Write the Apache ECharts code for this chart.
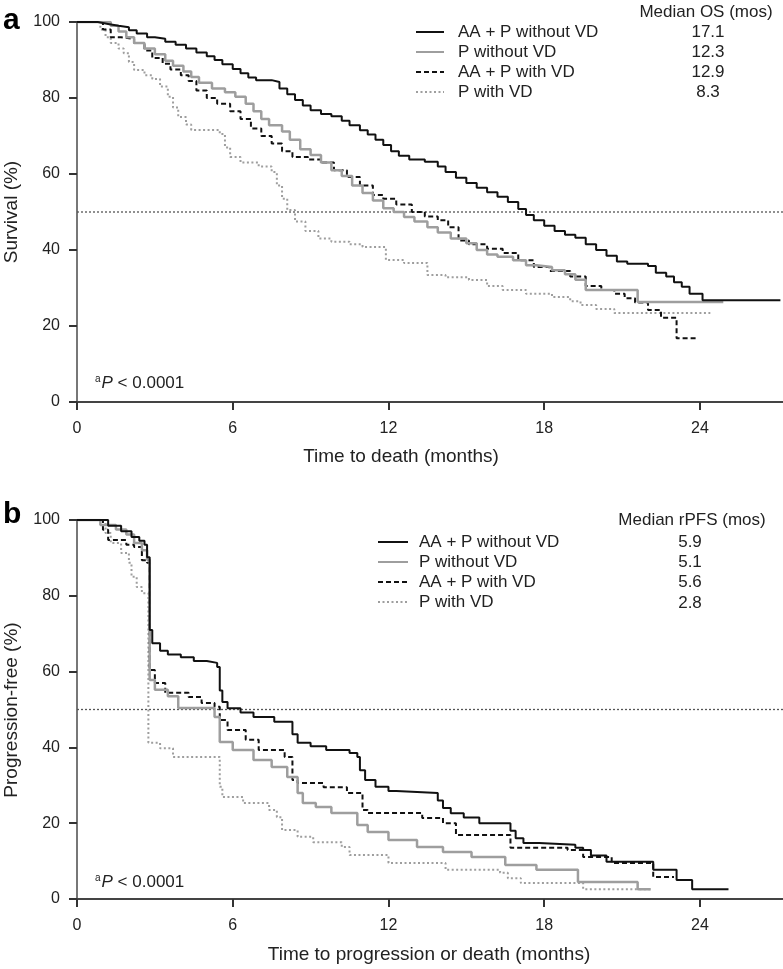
<!DOCTYPE html>
<html><head><meta charset="utf-8">
<script src="https://cdn.jsdelivr.net/npm/echarts@6/dist/echarts.min.js"></script>
<style>html,body{margin:0;padding:0;background:#fff}#c{width:783px;height:969px}</style>
</head><body><div id="c"></div>
<script>
// ---------- data ----------
const seriesNames = ['AA + P without VD', 'P without VD', 'AA + P with VD', 'P with VD'];
const medianOS = ['17.1', '12.3', '12.9', '8.3'];
const medianPFS = ['5.9', '5.1', '5.6', '2.8'];
const xTickValues = [0, 6, 12, 18, 24];
const medianRefLevel = 50;

// Panel a: overall survival (months, %)
const osAAPnoVD = [[0,100],[0.6,100],[0.8,99.5],[1.2,99],[1.6,98.6],[2.0,97.8],[2.3,97],[2.7,96],[3.0,95.6],[3.4,94.8],[3.8,94],[4.2,93],[4.6,92],[5.0,91],[5.3,90],[5.6,88.9],[6.0,87.6],[6.3,86.5],[6.6,85.4],[6.9,84.7],[7.5,84.2],[7.8,82.5],[8.1,81],[8.4,79.5],[8.7,78],[9.0,76.8],[9.4,75.8],[9.8,75.2],[10.2,74],[10.5,72.8],[10.9,71.5],[11.2,70.4],[11.5,69],[11.8,67.6],[12.1,66],[12.4,64.8],[12.8,63.8],[13.4,63.2],[13.9,62],[14.2,60.5],[14.6,59],[15.0,57.6],[15.4,56.4],[15.8,55.2],[16.2,54],[16.6,52.6],[17.0,50.8],[17.3,49.2],[17.6,47.8],[18.0,46.4],[18.4,45],[18.8,44],[19.2,43.2],[19.6,41.5],[20.0,40],[20.4,38.5],[20.8,37],[21.2,36.4],[22.0,35.8],[22.3,34],[22.7,33],[23.0,31.5],[23.3,30.3],[23.6,28.5],[24.1,26.8],[27.1,26.8]];
const osPnoVD = [[0,100],[1.0,100],[1.3,99],[1.6,97.5],[1.9,96],[2.2,94.5],[2.6,93],[3.0,91.5],[3.4,89.8],[3.7,88.5],[4.1,87],[4.4,85.5],[4.7,84],[5.2,82.5],[5.7,81.5],[6.1,80.3],[6.5,78.5],[6.8,76.5],[7.1,74.5],[7.4,72.8],[7.9,71.2],[8.2,69],[8.6,66.5],[9.0,65],[9.4,63],[9.8,61],[10.2,59.5],[10.6,57],[11.0,55],[11.4,53],[11.8,51],[12.2,50],[12.6,48.7],[13.0,47.5],[13.5,46],[13.9,44.6],[14.4,43],[15.0,41.8],[15.4,40],[15.8,38.8],[16.2,38.2],[16.8,37.3],[17.3,36],[17.7,35.5],[18.3,34.7],[18.8,33.6],[19.2,32.2],[19.6,29.5],[21.6,26.3],[24.9,26.3]];
const osAAPwithVD = [[0,100],[0.8,100],[1.0,98],[1.3,96],[1.7,95.5],[2.2,94.5],[2.6,92.5],[2.9,90.5],[3.3,89],[3.6,87.5],[4.0,86],[4.3,84.5],[4.6,82],[5.0,80],[5.4,78.5],[5.9,76.5],[6.3,74.5],[6.7,72],[7.1,70],[7.5,68],[7.9,66],[8.3,64.5],[8.9,63.8],[9.4,63],[9.9,61],[10.4,59.2],[10.9,57],[11.4,54.5],[11.8,53.5],[12.3,52],[12.9,50],[13.4,48.8],[13.9,47.8],[14.3,46],[14.7,42.5],[15.1,41.5],[15.8,40.3],[16.4,39.2],[17.0,37.3],[17.6,35.5],[18.2,34.5],[19.0,33],[19.6,30.5],[20.2,29.5],[20.7,28.5],[21.1,27.3],[21.5,26.2],[22.0,24.2],[22.5,22.2],[23.1,16.8],[23.9,16.8]];
const osPwithVD = [[0,100],[0.7,100],[0.9,98],[1.1,96],[1.3,94.5],[1.6,93],[1.8,91.8],[2.0,89.5],[2.2,87.4],[2.6,86],[2.9,85],[3.2,83],[3.5,80.3],[3.7,77.5],[3.9,75],[4.2,73],[4.4,71.6],[5.5,70.5],[5.7,67],[5.9,64.5],[6.3,63],[7.0,62],[7.5,60.5],[7.7,57],[7.9,53.5],[8.1,50.5],[8.4,47.5],[8.8,45],[9.3,43],[9.8,42.2],[10.5,41.5],[11.0,40.8],[11.9,37.4],[12.6,36.6],[13.5,33.4],[14.2,32.8],[15.1,32.1],[15.8,30.5],[16.4,29.5],[17.3,28.5],[18.3,27.6],[19.0,26.5],[19.4,25.5],[20.0,24.5],[20.7,23.4],[24.4,23.4]];

// Panel b: radiographic progression-free survival (months, %)
const pfsAAPnoVD = [[0,100],[0.8,100],[1.2,98.5],[1.7,97],[2.1,95.5],[2.4,94.5],[2.6,93.5],[2.7,90.2],[2.8,71],[2.9,67.5],[3.2,65.5],[3.5,64.5],[4.0,63.8],[4.5,62.8],[5.0,62.3],[5.4,61.2],[5.5,55],[5.6,52],[5.8,50.3],[6.3,49.2],[6.8,48],[7.6,46.8],[8.3,43.5],[8.5,41.2],[9.0,40.3],[9.6,39.3],[10.5,38.5],[10.8,37.5],[10.9,34],[11.1,31.4],[11.5,29.6],[12.0,28.5],[12.3,28],[13.9,26],[14.1,24],[14.4,22.6],[14.9,21.5],[15.5,20],[16.7,18],[16.9,16],[17.2,14.8],[17.8,14.3],[19.2,13.5],[19.5,12.9],[19.8,11.5],[20.4,9.8],[22.2,7.7],[23.1,5],[23.7,2.6],[25.1,2.6]];
const pfsPnoVD = [[0,100],[0.7,100],[0.9,98.7],[1.5,97.5],[1.9,96.2],[2.2,93.9],[2.5,92],[2.7,89.5],[2.8,57.8],[3.0,55.2],[3.5,53.5],[3.9,50.4],[5.3,48],[5.5,41.4],[6.0,39.3],[6.8,36.7],[7.5,34.8],[8.1,32.2],[8.5,28],[8.7,25.3],[9.2,24.3],[9.8,22.7],[10.8,19.5],[11.2,17.7],[12.0,15.6],[13.1,13.7],[14.1,12.4],[15.2,11.1],[16.5,9],[17.7,7.7],[19.3,4.5],[21.6,2.6],[22.1,2.6]];
const pfsAAPwithVD = [[0,100],[0.8,100],[1.0,97.4],[1.2,94.7],[1.9,93.5],[2.2,92.9],[2.5,89.4],[2.7,88.7],[2.8,60.4],[3.0,57],[3.4,54.4],[4.3,53.3],[4.8,51.7],[5.3,50.7],[5.5,47.2],[5.8,44.6],[6.5,42],[7.0,39.3],[8.0,37.5],[8.3,31.4],[8.5,30.6],[9.5,29.5],[10.4,28],[11.0,23.5],[11.2,22.7],[13.3,21.4],[14.1,20],[14.6,16.9],[16.7,13.5],[18.9,12.9],[19.5,11.1],[20.6,9.5],[22.2,5.8],[23.0,5.8]];
const pfsPwithVD = [[0,100],[0.8,100],[1.1,96.6],[1.3,93.9],[1.7,91.3],[2.0,88.7],[2.1,85],[2.3,82.3],[2.5,80.7],[2.75,41.2],[3.2,39.8],[3.7,37.5],[5.5,29.6],[5.6,26.9],[6.4,25.3],[7.4,23.5],[7.7,21.6],[7.9,18.2],[8.5,16.4],[9.1,15],[10.2,13.7],[10.5,11.6],[12.0,9.5],[14.2,7.7],[16.3,6.9],[16.6,5.5],[17.1,4.2],[19.5,2.6],[22.1,2.6]];

// ---------- chart ----------
const FONT = "'Liberation Sans', Arial, Helvetica, sans-serif";
const TXT = '#222';
const XMAX = 27.2;
const lineStyles = [
  {color: '#111', width: 2, type: 'solid'},
  {color: '#9e9e9e', width: 2.5, type: 'solid'},
  {color: '#111', width: 2, type: [5, 3]},
  {color: '#9e9e9e', width: 2, type: [2, 2.5]}
];
const panelData = [
  [osAAPnoVD, osPnoVD, osAAPwithVD, osPwithVD],
  [pfsAAPnoVD, pfsPnoVD, pfsAAPwithVD, pfsPwithVD]
];

const series = [];
panelData.forEach((sets, p) => {
  series.push({
    name: 'median reference', type: 'line', xAxisIndex: p, yAxisIndex: p,
    data: [[0, medianRefLevel], [XMAX, medianRefLevel]], symbol: 'none', silent: true,
    lineStyle: {color: '#555', width: 1.3, type: [2, 2]}, z: 1
  });
  sets.forEach((d, i) => {
    series.push({
      name: seriesNames[i], type: 'line', xAxisIndex: p, yAxisIndex: p, step: 'end',
      data: d, symbol: 'none', showSymbol: false, legendIcon: 'none',
      lineStyle: lineStyles[i], itemStyle: {color: lineStyles[i].color}, z: 2 + (3 - i)
    });
  });
});

function xAxis(idx) {
  return {
    gridIndex: idx, type: 'value', min: 0, max: XMAX, interval: 6, offset: 5,
    axisLine: {show: true, lineStyle: {color: '#444', width: 2}},
    axisTick: {show: true, length: 8, customValues: xTickValues, lineStyle: {color: '#333', width: 2}},
    axisLabel: {customValues: xTickValues, margin: 14, fontSize: 16, color: TXT, fontFamily: FONT},
    splitLine: {show: false}
  };
}
function yAxis(idx) {
  return {
    gridIndex: idx, type: 'value', min: 0, max: 100, interval: 20, offset: 2,
    axisLine: {show: true, lineStyle: {color: '#777', width: 2}},
    axisTick: {show: true, length: 8, lineStyle: {color: '#333', width: 2}},
    axisLabel: {margin: 15, fontSize: 16, color: TXT, fontFamily: FONT},
    splitLine: {show: false}
  };
}
function legend(left, top, w, pad) {
  return {
    data: seriesNames, left: left, top: top, orient: 'vertical', selectedMode: false,
    padding: 0, itemWidth: w, itemHeight: 14, itemGap: 0,
    itemStyle: {opacity: 0},
    textStyle: {fontSize: 17, fontFamily: FONT, color: TXT, lineHeight: 20, padding: [0, 0, 0, pad]}
  };
}
function txt(text, x, y, opts) {
  return {type: 'text', x: x, y: y, silent: true,
    style: Object.assign({text: text, fill: TXT, font: '17px ' + FONT, align: 'center', verticalAlign: 'middle'}, opts || {})};
}

const graphics = [];
graphics.push(txt('a', 3, 21, {font: 'bold 30px ' + FONT, align: 'left', fill: '#000'}));
graphics.push(txt('b', 3, 515, {font: 'bold 30px ' + FONT, align: 'left', fill: '#000'}));
graphics.push(txt('Median OS (mos)', 706, 12));
medianOS.forEach((v, i) => graphics.push(txt(v, 708, 32 + 20 * i)));
graphics.push(txt('Median rPFS (mos)', 692, 520));
medianPFS.forEach((v, i) => graphics.push(txt(v, 690, 542 + 20.3 * i)));
graphics.push(txt('Time to death (months)', 401, 457, {font: '19px ' + FONT}));
graphics.push(txt('Time to progression or death (months)', 429, 955, {font: '19px ' + FONT}));
graphics.push({type: 'text', x: 12, y: 212, rotation: Math.PI / 2, silent: true,
  style: {text: 'Survival (%)', fill: TXT, font: '19px ' + FONT, align: 'center', verticalAlign: 'middle'}});
graphics.push({type: 'text', x: 12, y: 710, rotation: Math.PI / 2, silent: true,
  style: {text: 'Progression-free (%)', fill: TXT, font: '19px ' + FONT, align: 'center', verticalAlign: 'middle'}});
function pText(y) {
  return {type: 'text', x: 95, y: y, silent: true,
    style: {text: '{s|a}{i|P}{n| < 0.0001}', fill: TXT, align: 'left', verticalAlign: 'middle',
      rich: {
        s: {fontSize: 10, fontFamily: FONT, fill: TXT, verticalAlign: 'top', lineHeight: 18, padding: [0, 1, 8, 0]},
        i: {fontSize: 17, fontFamily: FONT, fontStyle: 'italic', fill: TXT, lineHeight: 18},
        n: {fontSize: 17, fontFamily: FONT, fill: TXT, lineHeight: 18}
      }}};
}
graphics.push(pText(383));
graphics.push(pText(882));

const chart = echarts.init(document.getElementById('c'), null, {renderer: 'canvas'});
chart.setOption({
  animation: false,
  backgroundColor: '#fff',
  grid: [
    {left: 77, top: 22, width: 706, height: 380, outerBoundsMode: 'none', containLabel: false},
    {left: 77, top: 520, width: 706, height: 379, outerBoundsMode: 'none', containLabel: false}
  ],
  xAxis: [xAxis(0), xAxis(1)],
  yAxis: [yAxis(0), yAxis(1)],
  legend: [legend(415, 22, 28, 9), legend(377, 532, 30, 6)],
  series: series,
  graphic: graphics
});
</script></body></html>
